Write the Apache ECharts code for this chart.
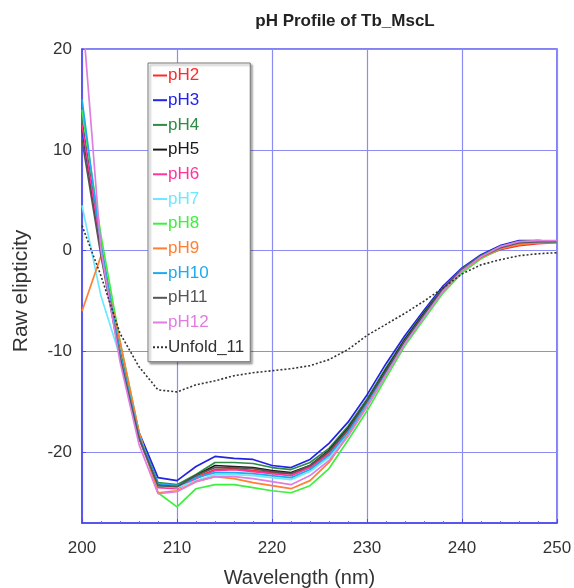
<!DOCTYPE html>
<html>
<head>
<meta charset="utf-8">
<script src="https://cdn.jsdelivr.net/npm/echarts@6/dist/echarts.min.js"></script>
<style>
html,body{margin:0;padding:0;background:#fff;}
#chart{width:574px;height:588px;}
</style>
</head>
<body>
<div id="chart"></div>
<script>
const wavelengths = [200,202,204,206,208,210,212,214,216,218,220,222,224,226,228,230,232,234,236,238,240,242,244,246,248,250];
const pH2  = [12.5,0.3,-10.3,-18.5,-23.3,-23.5,-22.5,-21.7,-21.6,-21.8,-22.0,-22.1,-21.5,-20.0,-17.8,-15.0,-11.9,-8.9,-6.3,-3.9,-1.9,-0.7,0.1,0.5,0.7,0.8];
const pH3  = [12.0,0.0,-10.0,-18.0,-22.5,-22.8,-21.4,-20.4,-20.6,-20.7,-21.3,-21.5,-20.7,-19.1,-17.0,-14.3,-11.2,-8.4,-5.9,-3.5,-1.7,-0.4,0.5,1.0,1.0,0.9];
const pH4  = [13.0,0.5,-10.0,-18.3,-23.0,-23.2,-22.2,-21.0,-21.0,-21.1,-21.5,-21.7,-21.0,-19.6,-17.4,-14.7,-11.6,-8.7,-6.1,-3.7,-1.8,-0.5,0.4,0.9,1.0,0.9];
const pH5  = [12.5,0.0,-10.5,-18.5,-23.2,-23.4,-22.3,-21.3,-21.4,-21.5,-21.8,-22.0,-21.3,-19.8,-17.6,-14.9,-11.8,-8.8,-6.2,-3.8,-1.9,-0.6,0.3,0.8,0.9,0.9];
const pH6  = [12.5,0.2,-10.4,-18.6,-23.5,-23.6,-22.6,-21.8,-21.7,-21.9,-22.1,-22.3,-21.5,-20.2,-18.0,-15.2,-12.1,-9.0,-6.4,-3.9,-1.9,-0.6,0.3,0.8,0.9,0.9];
const pH7  = [4.5,-4.5,-10.5,-18.5,-23.3,-23.5,-22.8,-22.2,-22.2,-22.3,-22.5,-22.7,-21.9,-20.5,-18.2,-15.3,-12.1,-9.1,-6.5,-4.0,-2.0,-0.7,0.2,0.7,0.9,0.9];
const pH8  = [14.0,1.5,-9.0,-18.0,-24.0,-25.4,-23.6,-23.2,-23.2,-23.5,-23.8,-24.0,-23.3,-21.6,-18.8,-15.9,-12.6,-9.4,-6.8,-4.2,-2.2,-0.8,0.2,0.7,0.8,0.8];
const pH9  = [-6.0,-0.5,-9.0,-18.0,-24.0,-23.8,-22.9,-22.4,-22.6,-23.0,-23.3,-23.6,-22.8,-21.0,-18.3,-15.4,-12.2,-9.1,-6.5,-4.0,-2.0,-0.7,0.2,0.6,0.8,0.9];
const pH10 = [15.0,0.5,-10.2,-18.4,-23.1,-23.3,-22.5,-22.0,-22.0,-22.1,-22.3,-22.5,-21.7,-20.3,-18.0,-15.1,-12.0,-9.0,-6.4,-3.9,-1.9,-0.6,0.3,0.8,0.9,0.9];
const pH11 = [11.0,-0.5,-10.6,-18.6,-23.3,-23.4,-22.3,-21.5,-21.5,-21.6,-21.9,-22.1,-21.3,-19.9,-17.7,-14.9,-11.9,-8.9,-6.3,-3.8,-1.9,-0.6,0.3,0.8,0.9,0.9];
const pH12 = [24.0,0.0,-11.0,-19.2,-24.1,-23.9,-22.9,-22.4,-22.4,-22.6,-22.9,-23.2,-22.3,-20.8,-18.4,-15.5,-12.3,-9.2,-6.6,-4.0,-2.0,-0.6,0.4,0.9,1.0,1.0];
const unfold11 = [2.5,-2.5,-8.2,-11.5,-13.8,-14.0,-13.3,-12.9,-12.4,-12.1,-11.9,-11.7,-11.4,-10.8,-9.8,-8.4,-7.3,-6.2,-5.0,-3.7,-2.3,-1.4,-0.9,-0.5,-0.3,-0.2];
const seriesNames = ['pH2','pH3','pH4','pH5','pH6','pH7','pH8','pH9','pH10','pH11','pH12','Unfold_11'];
const yTicks = [-20,-10,0,10,20];

const seriesData = [pH2,pH3,pH4,pH5,pH6,pH7,pH8,pH9,pH10,pH11,pH12,unfold11];
const colors = ['#ff2a2a','#2323e6','#2e8b46','#1a1a1a','#ff3399','#6ee8ff','#3cf03c','#ff7f33','#1eaaf0','#555555','#e07de0','#333333'];

const chart = echarts.init(document.getElementById('chart'), null, {renderer:'canvas'});
const font = '"Liberation Sans", Arial, Helvetica, sans-serif';

const series = seriesNames.map((n, i) => ({
  name: n,
  type: 'line',
  data: wavelengths.map((w, j) => [w, seriesData[i][j]]),
  showSymbol: false,
  symbol: 'none',
  clip: true,
  color: colors[i],
  lineStyle: {width: i === 11 ? 1.6 : 1.7, type: i === 11 ? [2, 2] : 'solid', color: colors[i]},
  z: i === 11 ? 3 : 2
}));

chart.setOption({
  animation: false,
  backgroundColor: '#ffffff',
  textStyle: {fontFamily: font},
  title: {
    text: 'pH Profile of Tb_MscL',
    left: 340, top: 8, textAlign: 'center',
    textStyle: {fontSize: 17, fontWeight: 'bold', color: '#222', fontFamily: font}
  },
  grid: {
    left: 82, top: 49, width: 475, height: 474,
    outerBoundsMode: 'none', containLabel: false,
    show: true, borderColor: '#5a5af0', borderWidth: 1.5, backgroundColor: 'transparent'
  },
  legend: {
    orient: 'vertical',
    left: 148, top: 63,
    itemWidth: 14, itemHeight: 14,
    itemGap: 7.7,
    padding: [4, 6, 6, 4],
    backgroundColor: '#ffffff',
    borderColor: '#777',
    borderWidth: 1,
    borderRadius: 0,
    shadowColor: 'rgba(0,0,0,0.35)',
    shadowBlur: 2,
    shadowOffsetX: 2,
    shadowOffsetY: 2,
    selectedMode: false,
    itemStyle: {opacity: 0},
    data: seriesNames.map((n, i) => ({name: n, textStyle: {color: colors[i]}})),
    textStyle: {fontSize: 17, fontFamily: font, padding: [0, 0, 0, -4]}
  },
  xAxis: {
    type: 'value', min: 200, max: 250, interval: 10,
    name: 'Wavelength (nm)', nameLocation: 'middle', nameGap: 45,
    nameTextStyle: {fontSize: 20, color: '#333', fontFamily: font, padding: [0, 40, 0, 0]},
    axisLine: {show: true, onZero: false, lineStyle: {color: '#4a4af0', width: 1.5}},
    axisTick: {show: true, inside: true, length: 4, lineStyle: {color: '#4a4af0'}},
    minorTick: {show: true, splitNumber: 5, length: 2, lineStyle: {color: '#6a6af0'}},
    axisLabel: {fontSize: 17, color: '#333', margin: 17, fontFamily: font},
    splitLine: {show: true, lineStyle: {color: '#8c8cf5', width: 1.2}}
  },
  yAxis: {
    type: 'value', min: -27, max: 20,
    name: 'Raw elipticity', nameLocation: 'middle', nameGap: 50,
    nameTextStyle: {fontSize: 21, color: '#333', fontFamily: font, padding: [0, 10, 0, 0]},
    axisLine: {show: true, onZero: false, lineStyle: {color: '#4a4af0', width: 1.5}},
    axisTick: {show: true, inside: true, length: 4, customValues: yTicks, lineStyle: {color: '#4a4af0'}},
    axisLabel: {fontSize: 17, color: '#333', margin: 10, fontFamily: font, customValues: yTicks},
    splitLine: {show: true, lineStyle: {color: '#8c8cf5', width: 1.2}}
  },
  series: series
});
</script>
</body>
</html>
